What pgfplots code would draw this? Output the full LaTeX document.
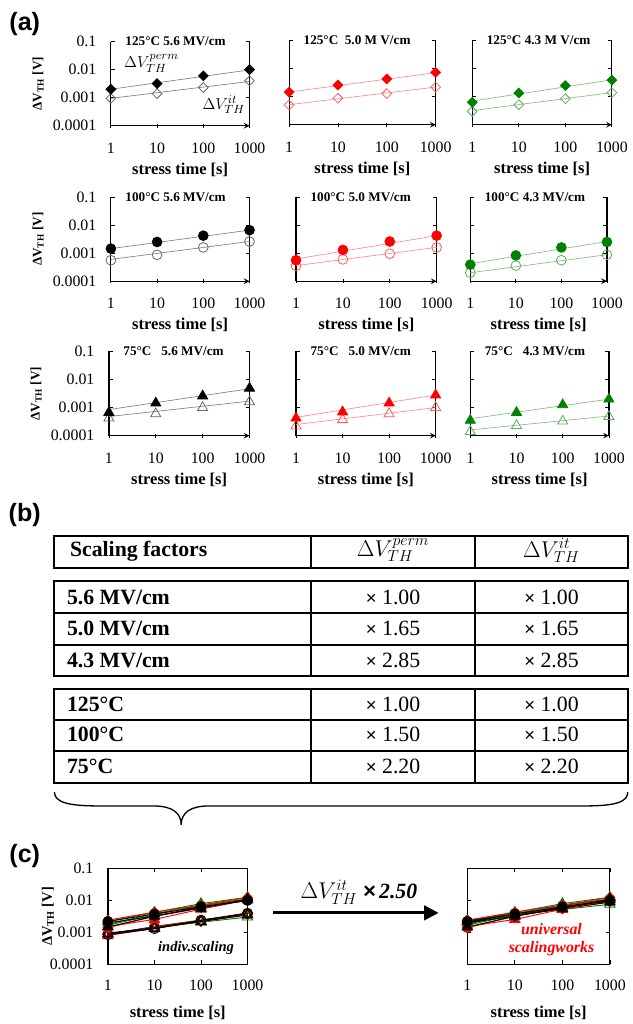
\documentclass[border=0pt]{standalone}
\usepackage{fontspec}
\setmainfont{Liberation Serif}
\newfontfamily\arial{Liberation Sans}
\usepackage{pgfplots}
\pgfplotsset{compat=1.18}
\usetikzlibrary{arrows.meta}
\definecolor{dgreen}{RGB}{0,128,0}

\pgfplotsset{
  mkD/.style={mark=square*, mark size=2.6pt, mark options={solid, rotate=45}},
  opD/.style={mark=square, mark size=2.6pt, mark options={solid, rotate=45, fill=none}},
  mkC/.style={mark=*, mark size=3.7pt, mark options={solid}},
  opC/.style={mark=o, mark size=3.7pt, mark options={solid, fill=none}},
  mkT/.style={mark=triangle*, mark size=4.4pt, mark options={solid}},
  opT/.style={mark=triangle, mark size=4.4pt, mark options={solid, fill=none}},
  colK/.style={color=black}, colKo/.style={color=black!60},
  colR/.style={color=red}, colRo/.style={color=red!65},
  colG/.style={color=dgreen}, colGo/.style={color=dgreen!65},
  lineK/.style={no marks, color=black!50, line width=0.5pt},
  lineR/.style={no marks, color=red!45, line width=0.5pt},
  lineG/.style={no marks, color=dgreen!50, line width=0.5pt},
  onlym/.style={only marks, line width=0.6pt},
  cline/.style={line width=0.7pt},
}
% common axis options, written out in one place
\newcommand{\startax}[1]{\begin{loglogaxis}[scale only axis, anchor=north west, height=63.75pt,
    xmin=1, xmax=1000, ymin=1e-4, ymax=0.1, clip=false,
    xtick={1,10,100,1000}, xticklabels={1,10,100,1000},
    ytick={1e-4,1e-3,1e-2,1e-1}, yticklabels={0.0001,0.001,0.01,0.1},
    xminorticks=false, yminorticks=false, tick align=inside, major tick length=3pt,
    tick style={line width=0.6pt, black}, axis line style={-, line width=0.9pt},
    tick label style={font=\fontsize{12}{12}\selectfont},
    xticklabel shift=8pt, yticklabel shift=7.5pt,
    xlabel={\textbf{stress time [s]}}, xlabel style={font=\fontsize{12.5}{12.5}\selectfont},
    ylabel style={font=\fontsize{11}{11}\selectfont, yshift=-10pt}, #1]}
\newcommand{\ttl}[1]{\node[anchor=west, font=\bfseries\fontsize{10}{10}\selectfont, xshift=7.5pt] at (rel axis cs:0,1) {#1};}
\newcommand{\ylab}{\textbf{ΔV\textsubscript{\textbf{TH}} [V]}}

\begin{document}
\begin{tikzpicture}
\begin{scope}[x=0.75pt,y=-0.75pt]
\path[use as bounding box] (0,0) rectangle (635,1024);
\end{scope}

% ---------- (a) row 1: 125 C
\startax{axis x line=bottom, axis y line=box, at={(84pt,-31.5pt)}, width=105pt, ylabel={\ylab}}
\addplot[lineK] coordinates {(1,0.002) (1000,0.0098)};
\addplot[lineK] coordinates {(1,0.00095) (1000,0.0038)};
\addplot[onlym,opD,colKo] coordinates {(1,0.00095) (10,0.0014) (100,0.0023) (1000,0.004)};
\addplot[onlym,mkD,colK] coordinates {(1,0.002) (10,0.0032) (100,0.006) (1000,0.01)};
\ttl{125°C 5.6 MV/cm}
\end{loglogaxis}
\startax{axis x line=bottom, axis y line=box, yticklabels={}, at={(219pt,-30.75pt)}, width=111pt}
\addplot[lineR] coordinates {(1,0.00146) (1000,0.0072)};
\addplot[lineR] coordinates {(1,0.00052) (1000,0.0022)};
\addplot[onlym,opD,colRo] coordinates {(1,0.00051) (10,0.00088) (100,0.0013) (1000,0.0022)};
\addplot[onlym,mkD,colR] coordinates {(1,0.00146) (10,0.0026) (100,0.0043) (1000,0.0074)};
\ttl{125°C\ \ 5.0 M V/cm}
\end{loglogaxis}
\startax{axis x line=bottom, axis y line=box, yticklabels={}, at={(357.75pt,-30.75pt)}, width=105.75pt}
\addplot[lineG] coordinates {(1,0.0007) (1000,0.004)};
\addplot[lineG] coordinates {(1,0.00032) (1000,0.0014)};
\addplot[onlym,opD,colGo] coordinates {(1,0.0003) (10,0.00052) (100,0.00085) (1000,0.0014)};
\addplot[onlym,mkD,colG] coordinates {(1,0.00063) (10,0.00135) (100,0.0025) (1000,0.0039)};
\ttl{125°C 4.3 M V/cm}
\end{loglogaxis}

% ---------- (a) row 2: 100 C
\startax{axis x line=bottom, axis y line=box, at={(84pt,-149.25pt)}, width=105pt, ylabel={\ylab}}
\addplot[lineK] coordinates {(1,0.00145) (1000,0.0066)};
\addplot[lineK] coordinates {(1,0.0006) (1000,0.0026)};
\addplot[onlym,opC,colKo] coordinates {(1,0.00056) (10,0.00087) (100,0.0016) (1000,0.0026)};
\addplot[onlym,mkC,colK] coordinates {(1,0.00145) (10,0.0025) (100,0.0042) (1000,0.0066)};
\ttl{100°C 5.6 MV/cm}
\end{loglogaxis}
\startax{axis x line=bottom, axis y line=box, yticklabels={}, at={(224.25pt,-149.25pt)}, width=106.5pt}
\addplot[lineR] coordinates {(1,0.00062) (1000,0.0042)};
\addplot[lineR] coordinates {(1,0.00036) (1000,0.0016)};
\addplot[onlym,opC,colRo] coordinates {(1,0.00035) (10,0.0006) (100,0.00095) (1000,0.0016)};
\addplot[onlym,mkC,colR] coordinates {(1,0.00056) (10,0.0013) (100,0.0026) (1000,0.0042)};
\ttl{100°C 5.0 MV/cm}
\end{loglogaxis}
\startax{axis x line=bottom, axis y line=box, yticklabels={}, at={(356.25pt,-149.25pt)}, width=103.5pt}
\addplot[lineG] coordinates {(1,0.00042) (1000,0.0026)};
\addplot[lineG] coordinates {(1,0.0002) (1000,0.00088)};
\addplot[onlym,opC,colGo] coordinates {(1,0.0002) (10,0.00036) (100,0.00056) (1000,0.00087)};
\addplot[onlym,mkC,colG] coordinates {(1,0.00039) (10,0.00083) (100,0.0016) (1000,0.0025)};
\ttl{100°C 4.3 MV/cm}
\end{loglogaxis}

% ---------- (a) row 3: 75 C
\startax{axis x line=bottom, axis y line=box, at={(82.5pt,-266.25pt)}, width=106.5pt, ylabel={\ylab}}
\addplot[lineK] coordinates {(1,0.00085) (1000,0.0047)};
\addplot[lineK] coordinates {(1,0.00048) (1000,0.0017)};
\addplot[onlym,opT,colKo] coordinates {(1,0.00042) (10,0.0006) (100,0.001) (1000,0.0016)};
\addplot[onlym,mkT,colK] coordinates {(1,0.00067) (10,0.00145) (100,0.0026) (1000,0.0049)};
\ttl{75°C\ \ \ 5.6 MV/cm}
\end{loglogaxis}
\startax{axis x line=bottom, axis y line=box, yticklabels={}, at={(224.25pt,-266.25pt)}, width=105.75pt}
\addplot[lineR] coordinates {(1,0.00045) (1000,0.0028)};
\addplot[lineR] coordinates {(1,0.00025) (1000,0.001)};
\addplot[onlym,opT,colRo] coordinates {(1,0.00022) (10,0.00037) (100,0.0006) (1000,0.001)};
\addplot[onlym,mkT,colR] coordinates {(1,0.00042) (10,0.0007) (100,0.00145) (1000,0.0028)};
\ttl{75°C\ \ \ 5.0 MV/cm}
\end{loglogaxis}
\startax{axis x line=bottom, axis y line=box, yticklabels={}, at={(356.25pt,-266.25pt)}, width=105pt}
\addplot[lineG] coordinates {(1,0.0004) (1000,0.002)};
\addplot[lineG] coordinates {(1,0.00016) (1000,0.0005)};
\addplot[onlym,opT,colGo] coordinates {(1,0.00014) (10,0.00023) (100,0.00033) (1000,0.00048)};
\addplot[onlym,mkT,colG] coordinates {(1,0.00035) (10,0.00067) (100,0.00126) (1000,0.002)};
\ttl{75°C\ \ \ 4.3 MV/cm}
\end{loglogaxis}

% ---------- (c) left: individual scaling
\startax{at={(81.75pt,-657.75pt)}, width=105.75pt, height=72.75pt, ylabel={\ylab},
  xlabel style={yshift=-5pt}}
\addplot[cline,opD,colG] coordinates {(1,0.00086) (10,0.00148) (100,0.0024) (1000,0.004)};
\addplot[cline,opC,colG] coordinates {(1,0.00086) (10,0.00154) (100,0.0024) (1000,0.0037)};
\addplot[cline,opT,colG] coordinates {(1,0.00088) (10,0.00144) (100,0.00207) (1000,0.003)};
\addplot[cline,opD,colR] coordinates {(1,0.00084) (10,0.00145) (100,0.00215) (1000,0.0036)};
\addplot[cline,opC,colR] coordinates {(1,0.00087) (10,0.0015) (100,0.00235) (1000,0.004)};
\addplot[cline,opT,colR] coordinates {(1,0.0008) (10,0.00134) (100,0.0022) (1000,0.0036)};
\addplot[cline,opD,colK] coordinates {(1,0.00095) (10,0.0014) (100,0.0023) (1000,0.004)};
\addplot[cline,opC,colK] coordinates {(1,0.00084) (10,0.0013) (100,0.0024) (1000,0.0039)};
\addplot[cline,opT,colK] coordinates {(1,0.00092) (10,0.00132) (100,0.0022) (1000,0.0035)};
\addplot[cline,mkD,colG] coordinates {(1,0.0018) (10,0.00385) (100,0.0071) (1000,0.0111)};
\addplot[cline,mkC,colG] coordinates {(1,0.00167) (10,0.00355) (100,0.0068) (1000,0.0107)};
\addplot[cline,mkT,colG] coordinates {(1,0.0022) (10,0.0042) (100,0.0079) (1000,0.0125)};
\addplot[cline,mkD,colR] coordinates {(1,0.0024) (10,0.0043) (100,0.0071) (1000,0.0122)};
\addplot[cline,mkC,colR] coordinates {(1,0.0014) (10,0.0032) (100,0.0064) (1000,0.0104)};
\addplot[cline,mkT,colR] coordinates {(1,0.00152) (10,0.00254) (100,0.0053) (1000,0.0102)};
\addplot[cline,mkD,colK] coordinates {(1,0.002) (10,0.0032) (100,0.006) (1000,0.01)};
\addplot[cline,mkC,colK] coordinates {(1,0.0022) (10,0.00375) (100,0.0063) (1000,0.0099)};
\addplot[cline,mkT,colK] coordinates {(1,0.00147) (10,0.0032) (100,0.0057) (1000,0.0108)};
\end{loglogaxis}

% ---------- (c) right: universal scaling (it x 2.50)
\startax{yticklabels={}, at={(354pt,-657.75pt)}, width=108pt, height=72.75pt,
  xlabel style={yshift=-5pt}}
\addplot[cline,opD,colG] coordinates {(1,0.00215) (10,0.0037) (100,0.006) (1000,0.01)};
\addplot[cline,opC,colG] coordinates {(1,0.0022) (10,0.0039) (100,0.006) (1000,0.0093)};
\addplot[cline,opT,colG] coordinates {(1,0.0022) (10,0.0036) (100,0.0052) (1000,0.0075)};
\addplot[cline,opD,colR] coordinates {(1,0.0021) (10,0.0036) (100,0.0054) (1000,0.009)};
\addplot[cline,opC,colR] coordinates {(1,0.0022) (10,0.0038) (100,0.0059) (1000,0.01)};
\addplot[cline,opT,colR] coordinates {(1,0.002) (10,0.0034) (100,0.0055) (1000,0.009)};
\addplot[cline,opD,colK] coordinates {(1,0.0024) (10,0.0035) (100,0.0058) (1000,0.01)};
\addplot[cline,opC,colK] coordinates {(1,0.0021) (10,0.0033) (100,0.006) (1000,0.0098)};
\addplot[cline,opT,colK] coordinates {(1,0.0023) (10,0.0033) (100,0.0055) (1000,0.0088)};
\addplot[cline,mkD,colG] coordinates {(1,0.0018) (10,0.00385) (100,0.0071) (1000,0.0111)};
\addplot[cline,mkC,colG] coordinates {(1,0.00167) (10,0.00355) (100,0.0068) (1000,0.0107)};
\addplot[cline,mkT,colG] coordinates {(1,0.0022) (10,0.0042) (100,0.0079) (1000,0.0125)};
\addplot[cline,mkD,colR] coordinates {(1,0.0024) (10,0.0043) (100,0.0071) (1000,0.0122)};
\addplot[cline,mkC,colR] coordinates {(1,0.0014) (10,0.0032) (100,0.0064) (1000,0.0104)};
\addplot[cline,mkT,colR] coordinates {(1,0.00152) (10,0.00254) (100,0.0053) (1000,0.0102)};
\addplot[cline,mkD,colK] coordinates {(1,0.002) (10,0.0032) (100,0.006) (1000,0.01)};
\addplot[cline,mkC,colK] coordinates {(1,0.0022) (10,0.00375) (100,0.0063) (1000,0.0099)};
\addplot[cline,mkT,colK] coordinates {(1,0.00147) (10,0.0032) (100,0.0057) (1000,0.0108)};
\end{loglogaxis}

\begin{scope}[x=0.75pt,y=-0.75pt]
% panel labels
\node[font=\arial\bfseries\fontsize{19}{19}\selectfont] at (25,24) {(a)};
\node[font=\arial\bfseries\fontsize{19}{19}\selectfont] at (25,520) {(b)};
\node[font=\arial\bfseries\fontsize{19}{19}\selectfont] at (25,865) {(c)};
% annotations in first plot
\node[font=\fontsize{12.5}{12.5}\selectfont] at (153,64) {$\Delta V_{TH}^{perm}$};
\node[font=\fontsize{12.5}{12.5}\selectfont] at (226,106) {$\Delta V_{TH}^{it}$};

% (b) table
\begin{scope}[line width=1.5pt]
\draw (55,541) rectangle (634,574);
\draw (314,541) -- (314,574) (480,541) -- (480,574);
\draw (55,587) rectangle (634,683);
\draw (55,619) -- (634,619) (55,651) -- (634,651);
\draw (314,587) -- (314,683) (480,587) -- (480,683);
\draw (55,696) rectangle (634,791);
\draw (55,727) -- (634,727) (55,758) -- (634,758);
\draw (314,696) -- (314,791) (480,696) -- (480,791);
\end{scope}
\node[anchor=west, font=\bfseries\fontsize{16.5}{16.5}\selectfont] at (66,557) {Scaling factors};
\node[font=\fontsize{16.5}{16.5}\selectfont] at (397,556) {$\Delta V_{TH}^{perm}$};
\node[font=\fontsize{16.5}{16.5}\selectfont] at (557,556) {$\Delta V_{TH}^{it}$};
\foreach \y/\a/\v in {603/5.6 MV\slash cm/1.00, 635/5.0 MV\slash cm/1.65, 667/4.3 MV\slash cm/2.85,
                      711/125°C/1.00, 742/100°C/1.50, 774/75°C/2.20}{
  \node[anchor=west, font=\bfseries\fontsize{16.5}{16.5}\selectfont] at (63,\y) {\a};
  \node[font=\fontsize{16.5}{16.5}\selectfont] at (397,\y) {{\arial\fontsize{14}{14}\selectfont ×} \v};
  \node[font=\fontsize{16.5}{16.5}\selectfont] at (557,\y) {{\arial\fontsize{14}{14}\selectfont ×} \v};
}
% brace
\draw[line width=1pt] (55,800) .. controls (55,810) and (68,814) .. (100,814) -- (155,814)
  .. controls (174,814) and (183,821) .. (183,833)
  .. controls (183,821) and (192,814) .. (211,814) -- (590,814)
  .. controls (622,814) and (634,810) .. (634,800);

% (c) arrow and texts
\draw[line width=2.2pt, -{Triangle[length=11pt, width=11pt]}] (276,922) -- (443,922);
\node[anchor=west, font=\fontsize{16.5}{16.5}\selectfont] at (299,901) {$\Delta V_{TH}^{it}$ \textbf{\textit{{\arial ×}\,2.50}}};
\node[font=\bfseries\itshape\fontsize{11}{11}\selectfont] at (198,957) {indiv.scaling};
\node[font=\bfseries\itshape\fontsize{12}{13}\selectfont, text=red, align=center] at (557,949) {universal\\scalingworks};
\end{scope}
\end{tikzpicture}
\end{document}
